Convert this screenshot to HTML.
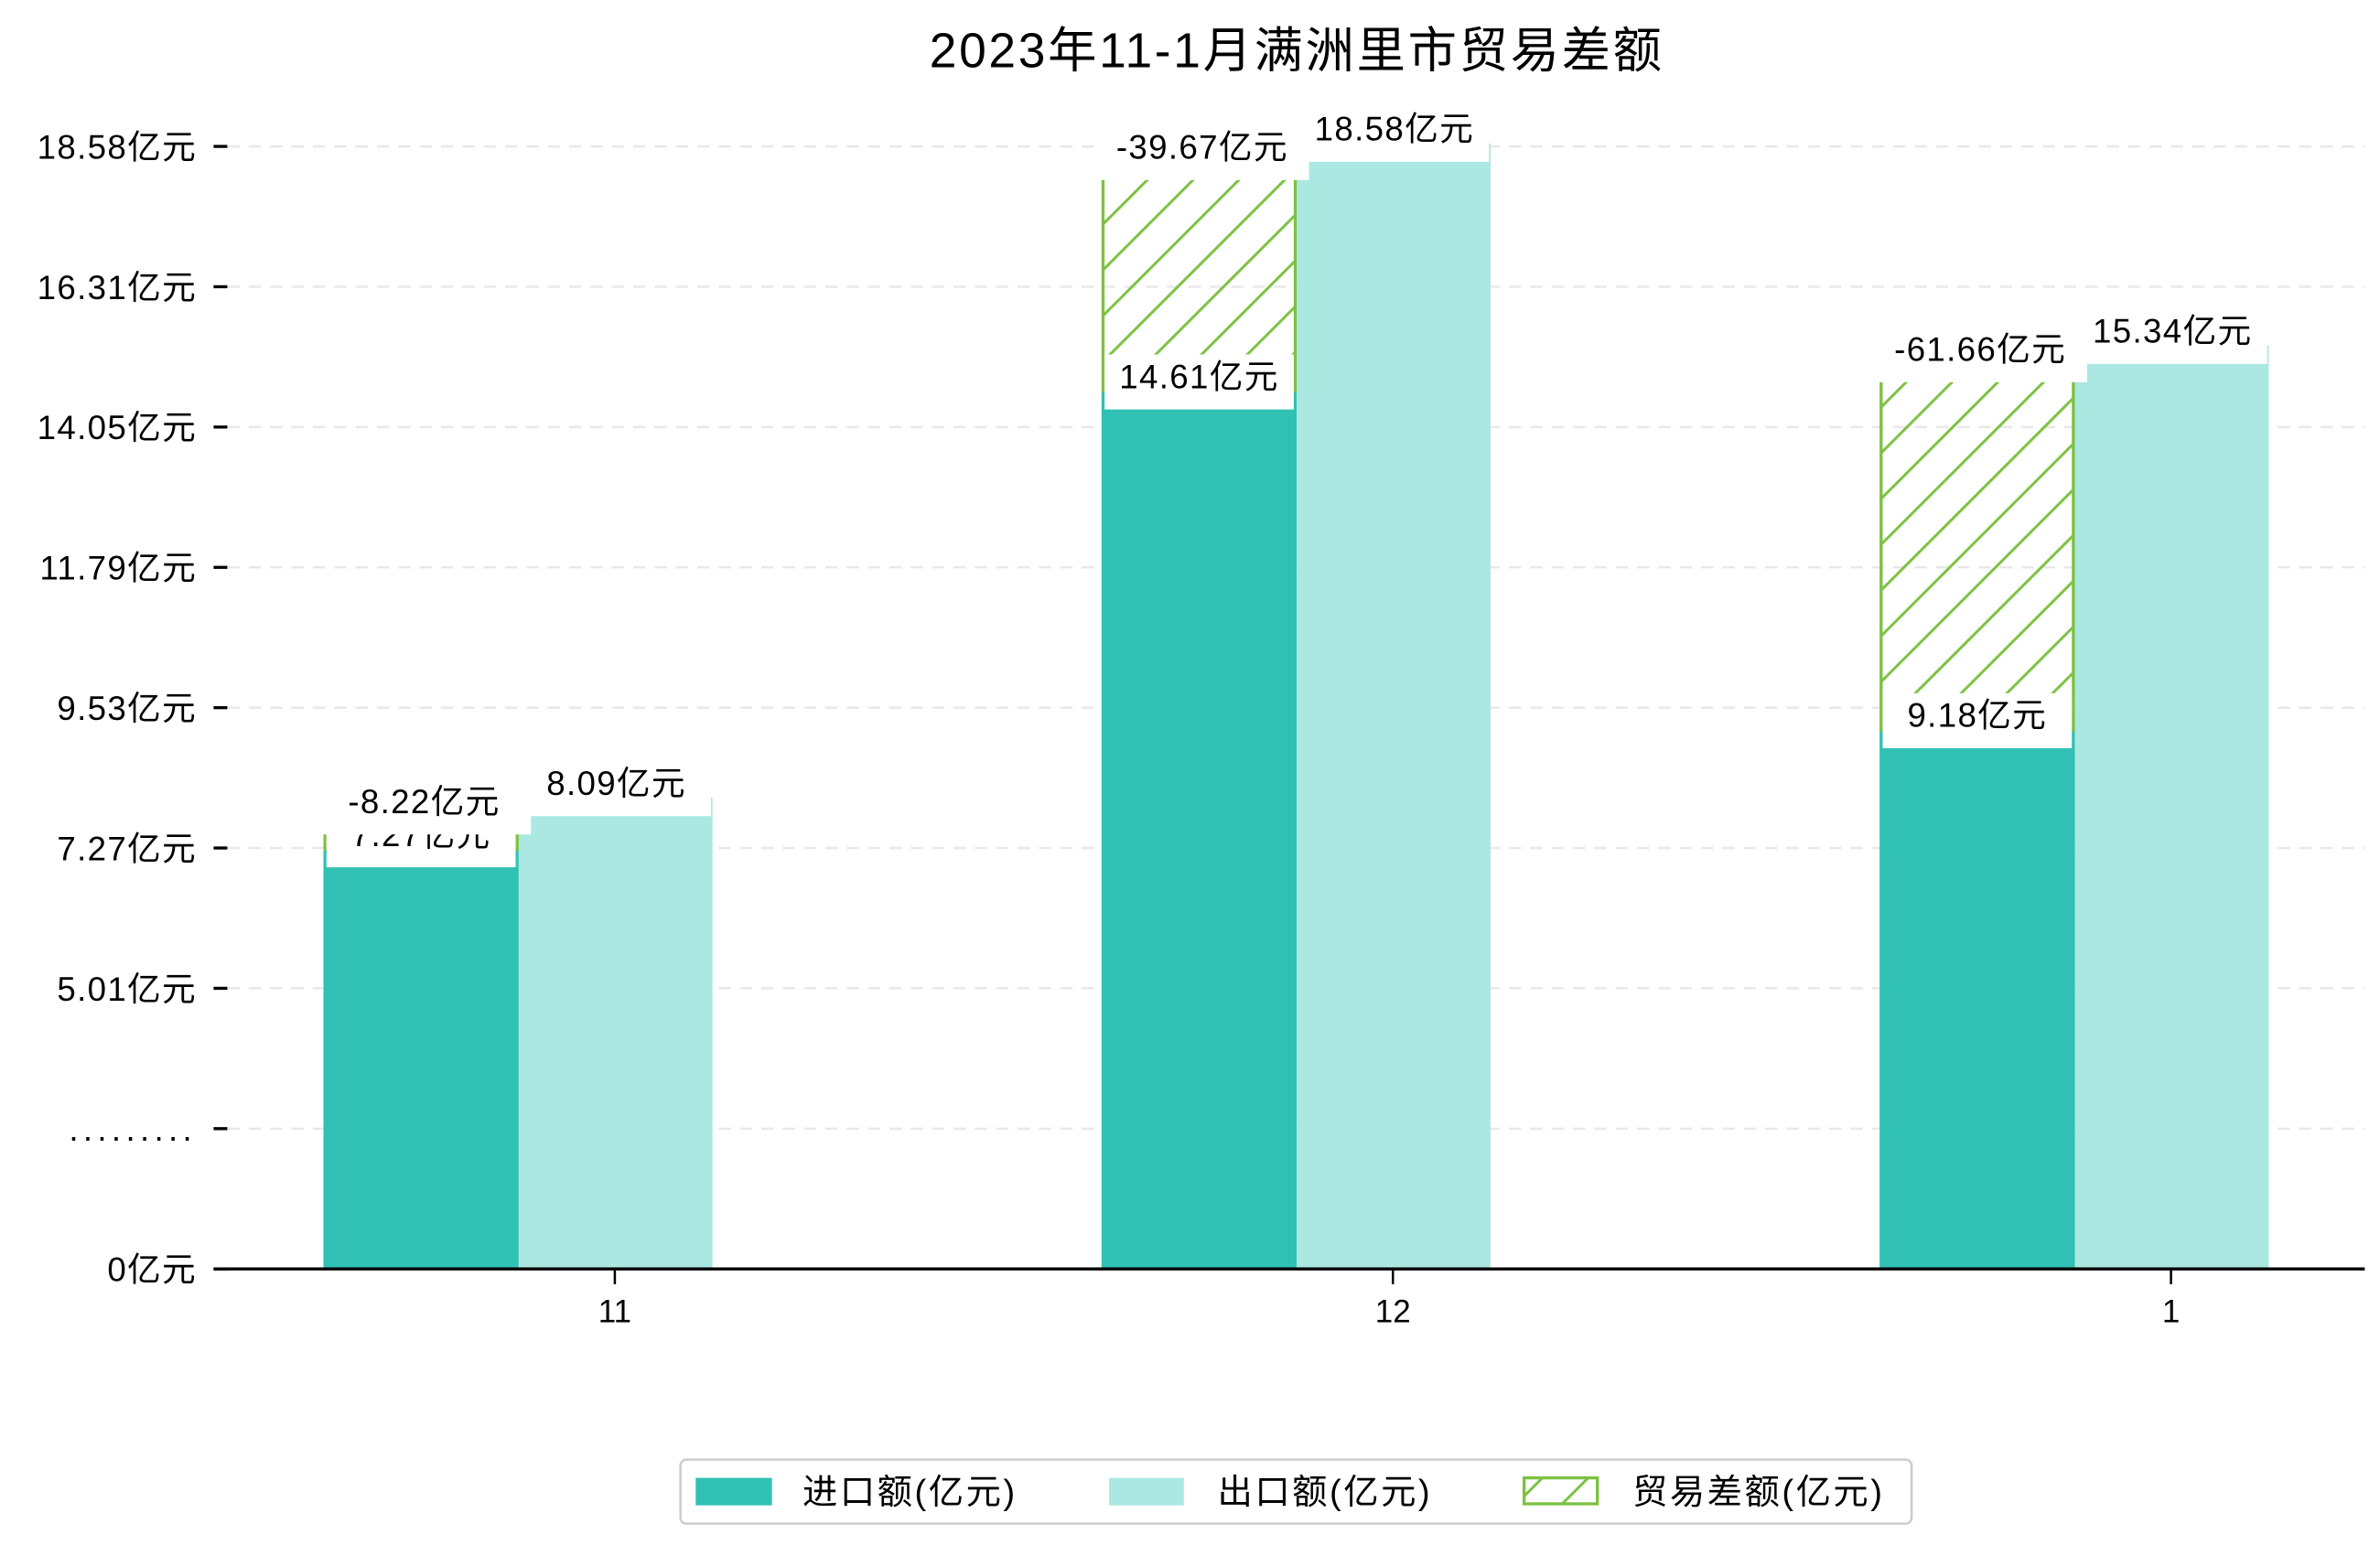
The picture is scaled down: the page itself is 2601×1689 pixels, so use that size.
<!DOCTYPE html>
<html><head><meta charset="utf-8">
<style>
html,body{margin:0;padding:0;background:#fff;}
svg{display:block;}
text{font-family:"Liberation Sans","Noto Sans CJK SC","WenQuanYi Zen Hei",sans-serif;fill:#000;}
</style></head>
<body>
<svg id="chart" width="2601" height="1689" viewBox="0 0 1560 1013" preserveAspectRatio="none" xmlns="http://www.w3.org/2000/svg">
<defs>
<pattern id="hatch" patternUnits="userSpaceOnUse" width="30" height="30">
<path d="M-8,38 L38,-8 M-8,8 L8,-8 M22,38 L38,22" stroke="#7dc142" stroke-width="1.8" fill="none"/>
</pattern>
</defs>
<text x="850" y="44" font-size="32" letter-spacing="1.6" text-anchor="middle">2023年11-1月满洲里市贸易差额</text>
<g id="grid"></g>
<g id="yaxis"></g>
<g id="bars"></g>
<g id="labels"></g>
<line x1="140" y1="832" x2="1550" y2="832" stroke="#000" stroke-width="2"/>
<g id="xaxis"></g>
<g>
<rect x="446" y="957" width="807" height="42" rx="4" fill="#fff" stroke="#cccccc" stroke-width="1.5"/>
<rect x="456" y="969" width="50" height="18" fill="#31c1b4"/>
<text x="526" y="986" font-size="23" letter-spacing="1.5">进口额(亿元)</text>
<rect x="727" y="969" width="49" height="18" fill="#abe8e2"/>
<text x="798" y="986" font-size="23" letter-spacing="1.5">出口额(亿元)</text>
<rect x="999" y="969" width="48" height="17" fill="url(#hatch)" stroke="#7dc142" stroke-width="2"/>
<text x="1070" y="986" font-size="23" letter-spacing="1.5">贸易差额(亿元)</text>
</g>
</svg>
<script>
const categories = ["11", "12", "1"];
const importValues = [7.27, 14.61, 9.18];
const exportValues = [8.09, 18.58, 15.34];
const balanceValues = [-8.22, -39.67, -61.66];
const tickLabels = ["0亿元", ".........", "5.01亿元", "7.27亿元", "9.53亿元", "11.79亿元", "14.05亿元", "16.31亿元", "18.58亿元"];

const NS = "http://www.w3.org/2000/svg";
const baseY = 832;
function yVal(v){ return 854 - 40.9 * v; }
function yTick(i){ return baseY - i * 92; }
function xCenter(i){ return 403 + i * 510; }
function mk(tag, attrs, parent){
  const e = document.createElementNS(NS, tag);
  for (const k in attrs) e.setAttribute(k, attrs[k]);
  parent.appendChild(e);
  return e;
}
const grid = document.getElementById('grid');
const yaxis = document.getElementById('yaxis');
const bars = document.getElementById('bars');
const labels = document.getElementById('labels');
const xaxis = document.getElementById('xaxis');

tickLabels.forEach((t, i) => {
  const y = yTick(i);
  if (i > 0) {
    const g = mk('line', {x1:149, x2:1550, y1:y, y2:y, stroke:'#e8e8e8', 'stroke-width':1.5, 'stroke-dasharray':'8,6'}, grid);
    
    
  }
  const tk = mk('line', {x1:140, x2:149, y1:y, y2:y, stroke:'#000', 'stroke-width':2}, yaxis);
  
  
  const dotted = t.indexOf('亿') < 0;
  const tx = mk('text', {x:129, y:y+8, 'font-size':22, 'letter-spacing': dotted ? 3.2 : 0.8, 'text-anchor':'end'}, yaxis);
  tx.textContent = t;
  
  
});

function labelBox(cx, w, bottom, text, name){
  const r = mk('rect', {x:cx - w/2, y:bottom - 36, width:w, height:36, fill:'#fff'}, labels);
  
  
  const t = mk('text', {x:cx, y:bottom - 14, 'font-size':22, 'letter-spacing':0.8, 'text-anchor':'middle'}, labels);
  t.textContent = text;
  
  
}

categories.forEach((c, i) => {
  const cx = xCenter(i);
  const ix = cx - 191, ex = cx - 63, bw = 128;
  const yi = yVal(importValues[i]), ye = yVal(exportValues[i]);
  const b1 = mk('rect', {x:ix, y:yi, width:bw, height:baseY - yi, fill:'#31c1b4'}, bars);
  
  
  const b2 = mk('rect', {x:ex, y:ye, width:bw - 1, height:baseY - ye, fill:'#abe8e2'}, bars);
  
  
  const top = Math.min(ye, yi), bot = Math.max(ye, yi);
  const h = mk('rect', {x:ix + 1, y:top, width:bw - 2, height:bot - top, fill:'url(#hatch)', stroke:'#7dc142', 'stroke-width':2}, bars);
  
  
  labelBox(ix + bw/2, 124, yi + 12, importValues[i].toFixed(2) + '亿元', 'import-value-label');
  labelBox(ex + bw/2, 124, ye + 12, exportValues[i].toFixed(2) + '亿元', 'export-value-label');
  labelBox(ix + bw/2 + 2, 140, ye + 24, balanceValues[i].toFixed(2) + '亿元', 'balance-value-label');
  const xt = mk('line', {x1:cx, x2:cx, y1:baseY, y2:baseY + 10, stroke:'#000', 'stroke-width':1.5}, xaxis);
  
  
  const xl = mk('text', {x:cx, y:867, 'font-size':21, 'text-anchor':'middle'}, xaxis);
  xl.textContent = c;
  
  
});
</script>
</body></html>
